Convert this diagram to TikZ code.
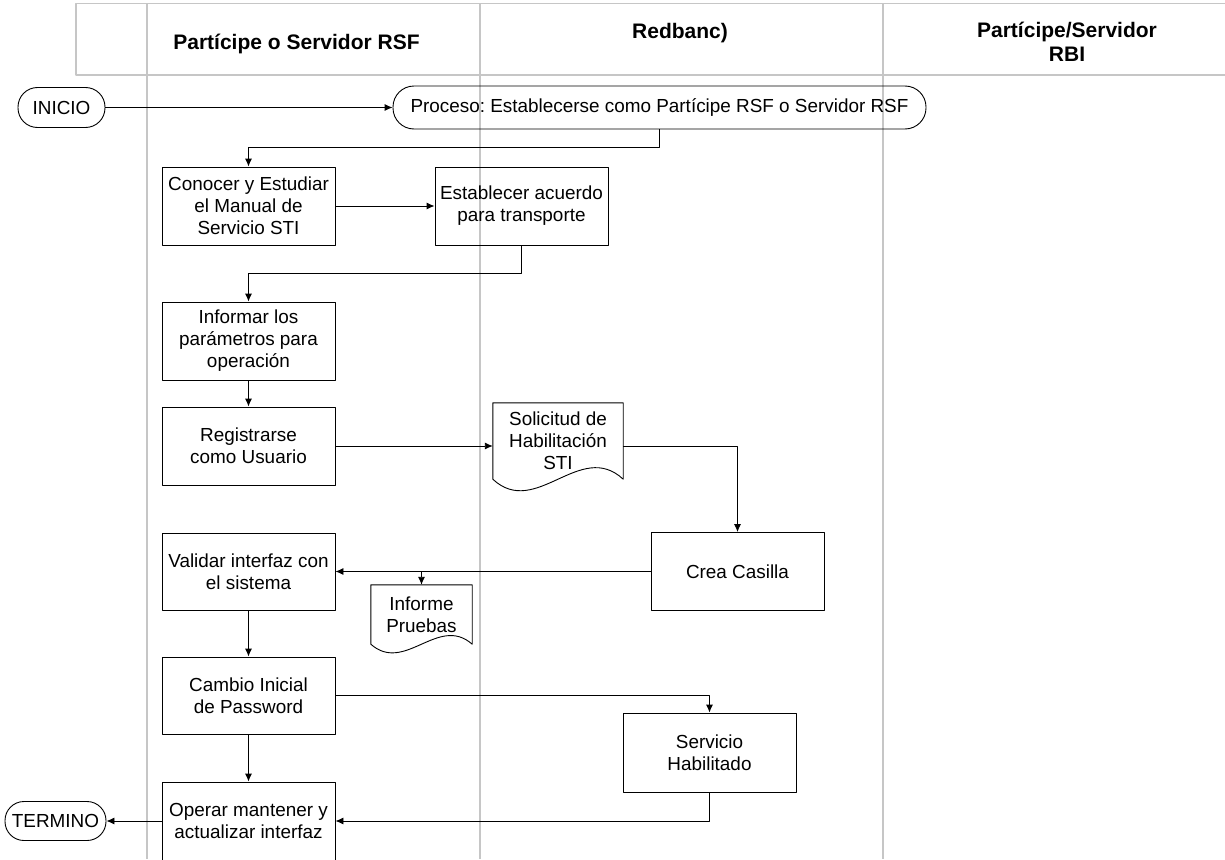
\documentclass[tikz,border=0pt]{standalone}
\usepackage{fontspec}
\setmainfont{Liberation Sans}
\usetikzlibrary{arrows.meta}
\frenchspacing
\begin{document}
\begin{tikzpicture}[x=1pt, y=-1pt, line join=round, >={Latex[length=8pt,width=7pt]},
	font=\fontsize{18.9}{22}\selectfont,
	lane/.style={draw=gray!45, line width=1.8pt},
	hdr/.style={font=\fontsize{21}{24}\selectfont\bfseries, align=center},
	box/.style={draw, line width=0.9pt, minimum width=173pt, minimum height=78pt, align=center, inner sep=2pt},
	term/.style={draw, line width=0.9pt, minimum height=#1, rounded corners=0.5*#1-0.5pt, inner sep=2pt},
	doc/.style={minimum width=#1, align=center, inner sep=0pt},
	flow/.style={->, line width=0.9pt}]
	\useasboundingbox (0,0) rectangle (1225,859);
	\draw[lane] (76,3.5) rectangle (1240,75);
	\draw[lane] (147,3.5)--(147,859) (480,3.5)--(480,859) (883,3.5)--(883,859);
	\node[hdr] (hdrRSF) at (296.5,44) {Partícipe o Servidor RSF};
	\node[hdr] (hdrRB) at (680,33) {Redbanc)};
	\node[hdr] (hdrRBI) at (1067,42) {Partícipe/Servidor\\RBI};
	\node[term=40pt, minimum width=87pt] (inicio) at (61.5,107.5) {INICIO};
	\node[term=43pt, minimum width=533pt] (proceso) at (659.5,107.5) {Proceso: Establecerse como Partícipe RSF o Servidor RSF};
	\node[box] (conocer) at (248.5,206) {Conocer y Estudiar\\el Manual de\\Servicio STI};
	\node[box] (acuerdo) at (521.5,206) {Establecer acuerdo\\para transporte};
	\node[box] (informar) at (248.5,341) {Informar los\\parámetros para\\operación};
	\node[box] (registro) at (248.5,446) {Registrarse\\como Usuario};
	\node[doc=130pt, minimum height=76pt] (solicitud) at (558,441) {Solicitud de\\Habilitación\\STI};
	\draw[line width=0.9pt] (solicitud.north west) -- (solicitud.north east) -- (solicitud.south east) .. controls +(-43,-40) and +(43,40) .. (solicitud.south west) -- cycle;
	\node[box] (casilla) at (737.5,571.5) {Crea Casilla};
	\node[box, minimum height=77pt] (validar) at (248.5,571.5) {Validar interfaz con\\el sistema};
	\node[doc=101pt, minimum height=59pt] (informe) at (421.5,614.5) {Informe\\Pruebas};
	\draw[line width=0.9pt] (informe.north west) -- (informe.north east) -- (informe.south east) .. controls +(-34,-30) and +(34,30) .. (informe.south west) -- cycle;
	\node[box, minimum height=77pt] (cambio) at (248.5,695.5) {Cambio Inicial\\de Password};
	\node[box, minimum height=79pt] (servicio) at (709.5,752.5) {Servicio\\Habilitado};
	\node[box] (operar) at (248.5,821) {Operar mantener y\\actualizar interfaz};
	\node[term=39pt, minimum width=101pt] (termino) at (55.5,821) {TERMINO};
	\draw[flow] (inicio) -- (proceso);
	\draw[flow] (proceso.south) -- ++(0,17.5) -| (conocer.north);
	\draw[flow] (conocer) -- (acuerdo);
	\draw[flow] (acuerdo.south) -- ++(0,28) -| (informar.north);
	\draw[flow] (informar) -- (registro);
	\draw[flow] (registro.east) -- (registro.east -| solicitud.west);
	\draw[flow] (registro.east -| solicitud.east) -| (casilla.north);
	\draw[flow] (casilla.west) -- (casilla.west -| validar.east);
	\draw[flow] (informe.north |- validar.east) -- (informe.north);
	\draw[flow] (validar) -- (cambio);
	\draw[flow] (cambio.east) -| (servicio.north);
	\draw[flow] (cambio) -- (operar);
	\draw[flow] (servicio.south) |- (operar.east);
	\draw[flow] (operar) -- (termino);
\end{tikzpicture}
\end{document}
